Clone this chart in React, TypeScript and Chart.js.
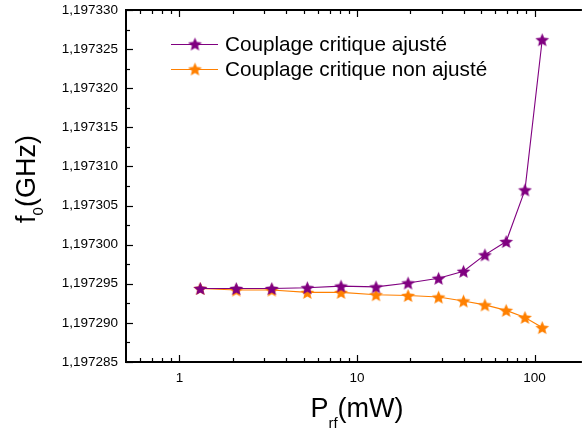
import React, { useEffect, useRef } from 'react';
import { Chart, registerables } from 'chart.js';

Chart.register(...registerables);

// ---- data ----
const POWER_MW = [1.31, 2.09, 3.31, 5.25, 8.13, 12.8, 19.4, 28.8, 39.8, 52.5, 69.2, 88.3, 110.4];
const F0_ADJUSTED = [
  1.1972944, 1.1972944, 1.1972944, 1.1972945, 1.1972947, 1.1972946, 1.1972951,
  1.1972957, 1.1972966, 1.1972987, 1.1973004, 1.197307, 1.1973262,
];
const F0_NOT_ADJUSTED = [
  1.1972944, 1.1972942, 1.1972942, 1.1972939, 1.1972939, 1.1972936, 1.1972935,
  1.1972933, 1.1972928, 1.1972923, 1.1972916, 1.1972907, 1.1972894,
];
const SERIES_NAMES = ['Couplage critique ajusté', 'Couplage critique non ajusté'];
const SERIES_COLORS = ['#800080', '#FF8000'];
const Y_TICKS = [
  1.197285, 1.19729, 1.197295, 1.1973, 1.197305, 1.19731, 1.197315, 1.19732, 1.197325, 1.19733,
];
const X_MAJOR_TICKS = [1, 10, 100];
const X_MINOR_TICKS = [0.6, 0.7, 0.8, 0.9, 2, 3, 4, 5, 6, 7, 8, 9, 20, 30, 40, 50, 60, 70, 80, 90];
const X_MIN = 0.5;
const X_MAX = 180;
const X_TITLE = ['P', 'rf', '(mW)'];
const Y_TITLE = ['f', '0', '(GHz)'];

const FONT = "'Liberation Sans', Arial, sans-serif";

function makeStar(color: string, size: number): HTMLCanvasElement {
  const c = document.createElement('canvas');
  c.width = size;
  c.height = size;
  const g = c.getContext('2d')!;
  const cx = size / 2;
  const cy = size / 2 + 0.7;
  const R = size / 2 - 0.3;
  const r = R * 0.45;
  g.beginPath();
  for (let i = 0; i < 10; i++) {
    const rad = i % 2 === 0 ? R : r;
    const ang = -Math.PI / 2 + (i * Math.PI) / 5;
    const px = cx + rad * Math.cos(ang);
    const py = cy + rad * Math.sin(ang);
    if (i === 0) g.moveTo(px, py);
    else g.lineTo(px, py);
  }
  g.closePath();
  g.fillStyle = color;
  g.fill();
  return c;
}

function formatY(v: number): string {
  return (Math.round(v * 1e6) / 1e6).toFixed(6).replace('.', ',');
}

export default function App() {
  const ref = useRef<HTMLCanvasElement>(null);

  useEffect(() => {
    if (!ref.current) return;
    const SZ = 15;
    const stars = SERIES_COLORS.map((c) => makeStar(c, SZ));

    const decor = {
      id: 'decor',
      afterDraw(chart: any) {
        const { ctx, chartArea: a, scales } = chart;
        const xs = scales.x;
        const ys = scales.y;
        ctx.save();
        ctx.strokeStyle = '#000';
        ctx.lineWidth = 1.2;
        const vtick = (v: number, len: number) => {
          const px = Math.round(xs.getPixelForValue(v)) + 0.5;
          ctx.beginPath();
          ctx.moveTo(px, a.bottom);
          ctx.lineTo(px, a.bottom - len);
          ctx.moveTo(px, a.top);
          ctx.lineTo(px, a.top + len);
          ctx.stroke();
        };
        X_MAJOR_TICKS.forEach((v) => vtick(v, 7));
        X_MINOR_TICKS.forEach((v) => vtick(v, 4));
        for (let i = 0; i < Y_TICKS.length; i++) {
          const py = Math.round(ys.getPixelForValue(Y_TICKS[i])) + 0.5;
          ctx.beginPath();
          ctx.moveTo(a.left, py);
          ctx.lineTo(a.left + 7, py);
          ctx.stroke();
          if (i < Y_TICKS.length - 1) {
            const pm = Math.round(ys.getPixelForValue((Y_TICKS[i] + Y_TICKS[i + 1]) / 2)) + 0.5;
            ctx.beginPath();
            ctx.moveTo(a.left, pm);
            ctx.lineTo(a.left + 4, pm);
            ctx.stroke();
          }
        }
        // frame
        ctx.lineWidth = 2;
        ctx.beginPath();
        ctx.moveTo(a.left, a.bottom);
        ctx.lineTo(a.right + 2, a.bottom);
        ctx.moveTo(a.left, a.top);
        ctx.lineTo(a.right + 2, a.top);
        ctx.moveTo(a.left, a.top - 1);
        ctx.lineTo(a.left, a.bottom + 1);
        ctx.stroke();

        // legend
        ctx.font = `20.7px ${FONT}`;
        ctx.textBaseline = 'middle';
        ctx.textAlign = 'left';
        ctx.fillStyle = '#000';
        SERIES_NAMES.forEach((name, i) => {
          const ly = a.top + 34 + i * 25;
          const lx = a.left + 45;
          ctx.strokeStyle = SERIES_COLORS[i];
          ctx.lineWidth = 1;
          ctx.beginPath();
          ctx.moveTo(lx, ly + 0.5);
          ctx.lineTo(lx + 47, ly + 0.5);
          ctx.stroke();
          ctx.drawImage(stars[i], lx + 24 - SZ / 2, ly - SZ / 2);
          ctx.fillText(name, lx + 54, ly + 1);
        });

        // x title
        const big = `27px ${FONT}`;
        const small = `15px ${FONT}`;
        ctx.textBaseline = 'alphabetic';
        ctx.fillStyle = '#000';
        ctx.font = big;
        const w0 = ctx.measureText(X_TITLE[0]).width;
        const w2 = ctx.measureText(X_TITLE[2]).width;
        ctx.font = small;
        const w1 = ctx.measureText(X_TITLE[1]).width;
        const xc = (a.left + a.right) / 2 + 4;
        const sx = xc - (w0 + w1 + w2) / 2;
        const by = chart.height - 15;
        ctx.font = big;
        ctx.fillText(X_TITLE[0], sx, by);
        ctx.font = small;
        ctx.fillText(X_TITLE[1], sx + w0, by + 11);
        ctx.font = big;
        ctx.fillText(X_TITLE[2], sx + w0 + w1, by);

        // y title
        ctx.save();
        ctx.translate(35, (a.top + a.bottom) / 2 - 7);
        ctx.rotate(-Math.PI / 2);
        ctx.font = big;
        const v0 = ctx.measureText(Y_TITLE[0]).width;
        const v2 = ctx.measureText(Y_TITLE[2]).width;
        ctx.font = small;
        const v1 = ctx.measureText(Y_TITLE[1]).width;
        const st = -(v0 + v1 + v2) / 2;
        ctx.font = big;
        ctx.fillText(Y_TITLE[0], st, 0);
        ctx.font = small;
        ctx.fillText(Y_TITLE[1], st + v0, 8);
        ctx.font = big;
        ctx.fillText(Y_TITLE[2], st + v0 + v1, 0);
        ctx.restore();

        ctx.restore();
      },
    };

    const chart = new Chart(ref.current, {
      type: 'line',
      data: {
        datasets: [
          {
            label: SERIES_NAMES[0],
            data: POWER_MW.map((x, i) => ({ x, y: F0_ADJUSTED[i] })),
            borderColor: SERIES_COLORS[0],
            backgroundColor: SERIES_COLORS[0],
            borderWidth: 1.1,
            pointStyle: stars[0] as any,
            tension: 0,
          },
          {
            label: SERIES_NAMES[1],
            data: POWER_MW.map((x, i) => ({ x, y: F0_NOT_ADJUSTED[i] })),
            borderColor: SERIES_COLORS[1],
            backgroundColor: SERIES_COLORS[1],
            borderWidth: 1.1,
            pointStyle: stars[1] as any,
            tension: 0,
          },
        ],
      },
      options: {
        animation: false,
        responsive: false,
        devicePixelRatio: 1,
        layout: { padding: { top: 10, left: 0, right: 0, bottom: 0 } },
        plugins: { legend: { display: false }, tooltip: { enabled: false } },
        scales: {
          x: {
            type: 'logarithmic',
            min: X_MIN,
            max: X_MAX,
            grid: { display: false, drawTicks: false },
            border: { display: false },
            afterBuildTicks: (s: any) => {
              s.ticks = X_MAJOR_TICKS.map((v) => ({ value: v }));
            },
            ticks: {
              color: '#000',
              font: { family: FONT, size: 13.5 },
              padding: 8,
              autoSkip: false,
              maxRotation: 0,
              callback: (v: any) => String(v),
            },
            afterFit: (s: any) => {
              s.height = 70;
              s.paddingLeft = 0;
              s.paddingRight = 0;
            },
          },
          y: {
            type: 'linear',
            min: Y_TICKS[0],
            max: Y_TICKS[Y_TICKS.length - 1],
            grid: { display: false, drawTicks: false },
            border: { display: false },
            afterBuildTicks: (s: any) => {
              s.ticks = Y_TICKS.map((v) => ({ value: v }));
            },
            ticks: {
              color: '#000',
              font: { family: FONT, size: 13.5 },
              padding: 8,
              autoSkip: false,
              callback: (v: any) => formatY(Number(v)),
            },
            afterFit: (s: any) => {
              s.width = 126;
              s.paddingTop = 0;
              s.paddingBottom = 0;
            },
          },
        },
      },
      plugins: [decor],
    } as any);

    return () => chart.destroy();
  }, []);

  return (
    <div style={{ position: 'fixed', left: 0, top: 0, width: 585, height: 432, background: '#fff' }}>
      <canvas ref={ref} width={585} height={432} />
    </div>
  );
}
